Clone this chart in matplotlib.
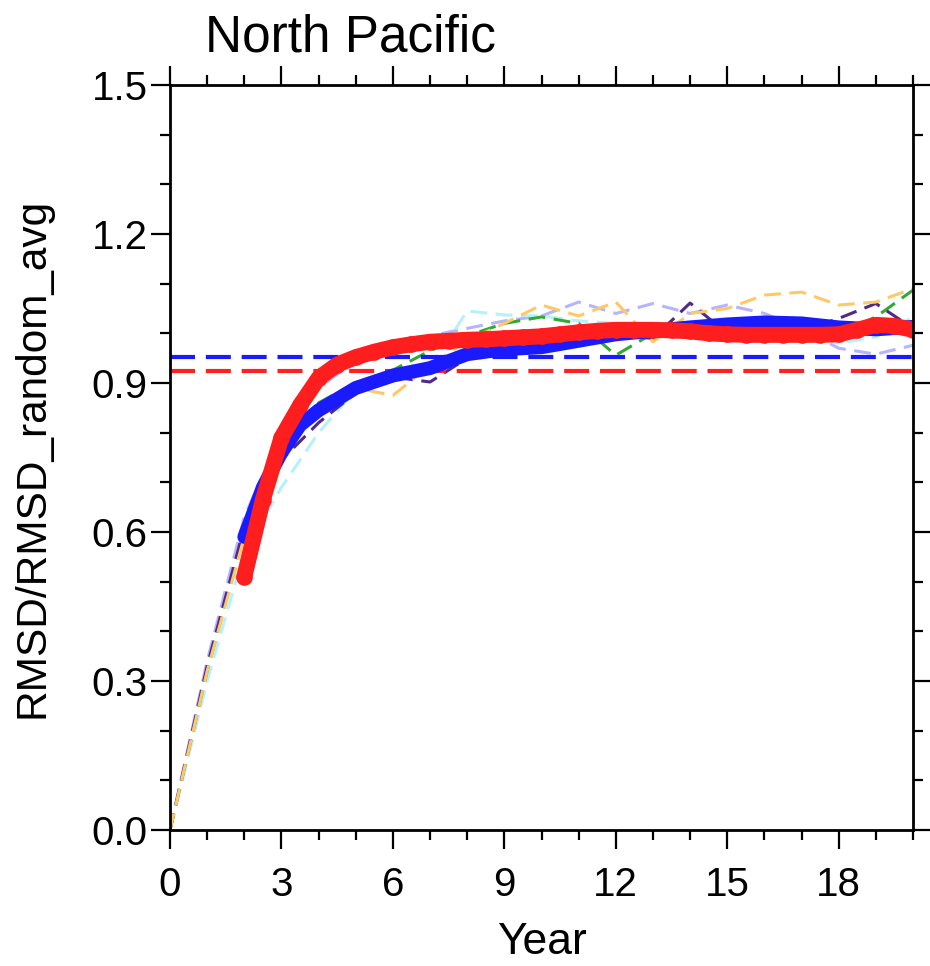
import matplotlib
matplotlib.use("Agg")
import matplotlib.pyplot as plt
from matplotlib.ticker import MultipleLocator

plt.rcParams['font.family'] = ['Liberation Sans', 'DejaVu Sans']

# Individual ensemble members (yearly, lead years 0-20)
member_years = list(range(0, 21))
member_purple = [0.0, 0.33, 0.61, 0.745, 0.82, 0.88, 0.912, 0.902, 0.95, 0.968, 0.98, 0.995,
                 0.995, 0.99, 1.061, 1.0, 1.01, 1.005, 1.03, 1.06, 1.01]
member_green = [0.0, 0.32, 0.60, 0.77, 0.86, 0.90, 0.926, 0.965, 0.995, 1.02, 1.033, 1.02,
                0.956, 1.0, 1.005, 1.0, 1.02, 1.03, 1.0, 1.033, 1.087]
member_orange = [0.0, 0.32, 0.59, 0.76, 0.85, 0.89, 0.875, 0.935, 0.985, 1.02, 1.057, 1.035,
                 1.063, 0.983, 1.04, 1.05, 1.077, 1.083, 1.057, 1.063, 1.09]
member_cyan = [0.0, 0.30, 0.56, 0.69, 0.80, 0.886, 0.905, 0.93, 1.045, 1.037, 1.035, 1.025,
               1.02, 1.0, 0.993, 1.0, 1.005, 1.0, 0.98, 0.993, 1.033]
member_lavender = [0.0, 0.34, 0.63, 0.80, 0.89, 0.945, 0.98, 0.995, 1.01, 1.025, 1.035, 1.063,
                   1.04, 1.06, 1.04, 1.057, 1.04, 1.01, 0.97, 0.958, 0.976]

# Ensemble mean (blue)
mean_years = [2, 2.5, 3, 3.5, 4, 5, 6, 7, 8, 9, 10, 11, 12, 13, 14, 15, 16, 17, 18, 19, 20]
mean_vals = [0.59, 0.69, 0.76, 0.815, 0.845, 0.89, 0.915, 0.93, 0.958, 0.968, 0.972, 0.985,
             0.998, 1.005, 1.012, 1.018, 1.022, 1.02, 1.012, 1.008, 1.013]

# Averaged curve (red)
avg_years = [2.0, 2.5, 3.0, 3.5, 4.0, 4.5, 5.0, 5.5, 6.0, 6.5, 7.0, 7.5, 8.0, 8.5, 9.0, 9.5,
             10.0, 10.5, 11.0, 11.5, 12.0, 12.5, 13.0, 13.5, 14.0, 14.5, 15.0, 15.5, 16.0,
             16.5, 17.0, 17.5, 18.0, 18.5, 19.0, 19.5, 20.0]
avg_vals = [0.51, 0.665, 0.79, 0.855, 0.91, 0.937, 0.952, 0.963, 0.972, 0.978, 0.983, 0.985,
            0.987, 0.988, 0.99, 0.992, 0.994, 0.998, 1.002, 1.005, 1.007, 1.007, 1.007, 1.006,
            1.004, 1.0, 0.998, 0.997, 0.997, 0.997, 0.997, 0.997, 0.998, 1.007, 1.017, 1.015,
            1.007]

# Reference levels
blue_level = 0.952
red_level = 0.924

fig = plt.figure(figsize=(9.3, 9.66), dpi=100)
ax = fig.add_axes([170 / 930, 1 - 830 / 966, 743 / 930, 745 / 966])

thin = dict(lw=2.2, dashes=(5.5, 2.8))
ax.plot(member_years, member_lavender, color='#b4b4ff', **thin)
ax.plot(member_years, member_cyan, color='#b4f2f8', **thin)
ax.plot(member_years, member_green, color='#33a833', **thin)
ax.plot(member_years, member_purple, color='#4f2a88', **thin)
ax.plot(member_years, member_orange, color='#ffc866', **thin)

ax.axhline(blue_level, color='#1a1aff', lw=3, dashes=(6, 2.6))
ax.axhline(red_level, color='#ff2020', lw=3, dashes=(6, 2.6))

ax.plot(mean_years, mean_vals, color='#1a1aff', lw=10, solid_capstyle='round',
        solid_joinstyle='round')
ax.plot(avg_years, avg_vals, color='#ff1e1e', lw=11.5, marker='o', ms=12, mec='#ff1e1e',
        mew=0, solid_capstyle='round', solid_joinstyle='round')

ax.set_xlim(0, 20)
ax.set_ylim(0, 1.5)
ax.xaxis.set_major_locator(MultipleLocator(3))
ax.xaxis.set_minor_locator(MultipleLocator(1))
ax.yaxis.set_major_locator(MultipleLocator(0.3))
ax.yaxis.set_minor_locator(MultipleLocator(0.1))
ax.yaxis.set_major_formatter(plt.FuncFormatter(lambda v, p: f"{v:.1f}"))

ax.tick_params(which='both', direction='out', top=True, right=True, width=1.6)
ax.tick_params(which='major', length=14, labelsize=29)
ax.tick_params(which='minor', length=7)
ax.tick_params(axis='x', which='major', pad=12)
ax.tick_params(axis='y', which='major', pad=2)
for s in ax.spines.values():
    s.set_linewidth(2)

ax.set_xlabel('Year', fontsize=32, labelpad=13)
ax.set_ylabel('RMSD/RMSD_random_avg', fontsize=30.5, labelpad=28)
fig.text(205 / 930, 1 - 52 / 966, 'North Pacific', fontsize=37, ha='left', va='baseline')

fig.savefig('out.png', dpi=100)
